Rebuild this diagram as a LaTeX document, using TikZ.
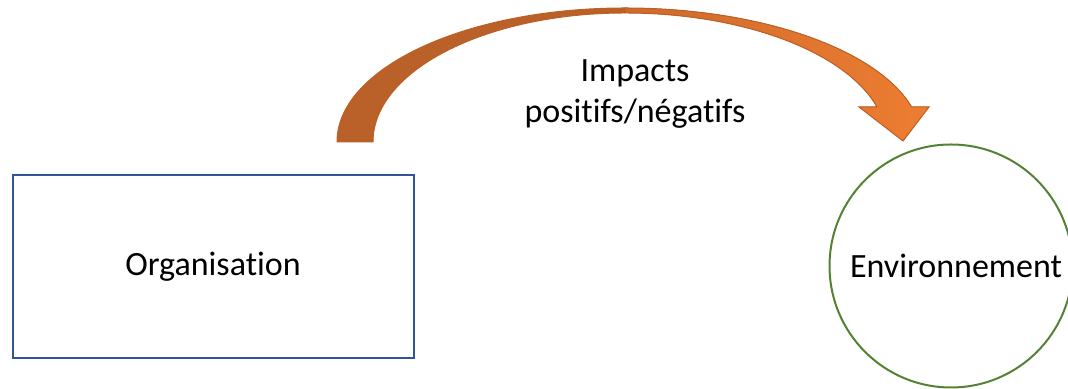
\documentclass[tikz,border=0pt]{standalone}
\usepackage{fontspec}
\setmainfont[Ligatures={NoCommon}]{Carlito}
\definecolor{boxblue}{RGB}{47,85,151}
\definecolor{envgreen}{RGB}{84,130,53}
\definecolor{arrowdark}{RGB}{185,97,41}
\definecolor{arrowmid}{RGB}{205,106,45}
\definecolor{arrowlight}{RGB}{237,125,49}
\definecolor{arrowedge}{RGB}{190,96,36}
\begin{document}
\begin{tikzpicture}[x=0.5pt,y=0.5pt,
  every node/.style={font=\fontsize{17}{20.5}\selectfont, text=black},
  orgbox/.style={draw=boxblue, line width=1pt, minimum width=200.5pt, minimum height=91.5pt, inner sep=0pt},
  envcircle/.style={draw=envgreen, line width=1pt, circle, minimum size=121.5pt, inner sep=0pt},
  arrowedgeline/.style={draw=arrowedge, line width=0.5pt, line join=miter}]
\useasboundingbox (0,0) rectangle (1068,389);

% the two entities
\node[orgbox] (org) at (213,122) {Organisation};
\node[envcircle] (env) at (951,123) {\hspace*{5pt}Environnement};

% curved arrow: rising arm (back face, darker)
\filldraw[arrowedgeline, fill=arrowdark]
  (337,247) arc[start angle=180, end angle=90, x radius=288, y radius=134]
  -- (625,376)
  arc[start angle=90, end angle=180, x radius=252, y radius=129]
  -- cycle;

% curved arrow: descending arm with head
\filldraw[arrowedgeline, left color=arrowmid, right color=arrowlight]
  (625,381) arc[start angle=90, end angle=15.14, x radius=297, y radius=134]
  -- (929,282) -- (903,248) -- (859,282) -- (877,282)
  arc[start angle=15.74, end angle=90, x radius=262, y radius=129]
  -- cycle;

% label of the arrow
\node[align=center] (lbl) at (635,295) {Impacts\\positifs/négatifs};
\end{tikzpicture}
\end{document}
